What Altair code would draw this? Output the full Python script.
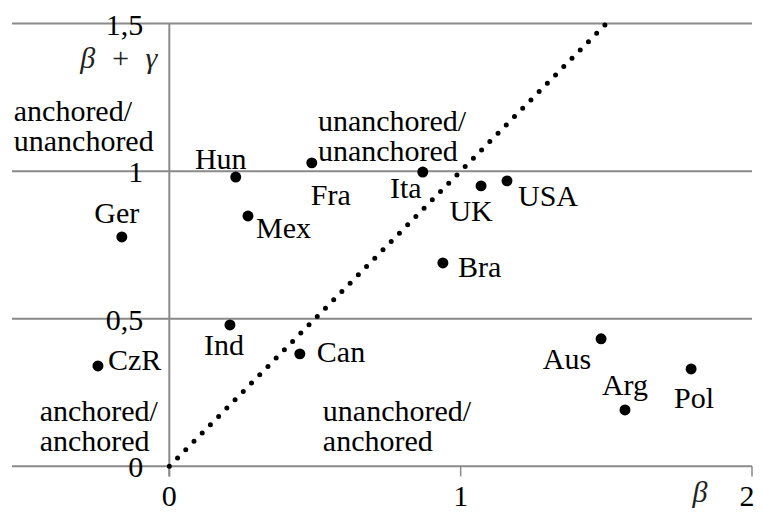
import altair as alt
import pandas as pd

# ---- data -------------------------------------------------------------
countries = ["Hun", "Fra", "Mex", "Ger", "Ita", "UK", "USA", "Bra",
             "Ind", "Can", "CzR", "Aus", "Arg", "Pol"]
beta = [0.228, 0.489, 0.270, -0.163, 0.870, 1.070, 1.159, 0.939,
        0.208, 0.448, -0.245, 1.482, 1.564, 1.791]
beta_gamma = [0.980, 1.028, 0.848, 0.777, 0.997, 0.950, 0.967, 0.689,
              0.479, 0.381, 0.340, 0.432, 0.191, 0.330]

grid_y = [0, 0.5, 1, 1.5]
y_tick_labels = ["0", "0,5", "1", "1,5"]
x_ticks = [0, 1, 2]
x_tick_labels = ["0", "1", "2"]

region_text = ["anchored/\nunanchored", "unanchored/\nunanchored",
               "anchored/\nanchored", "unanchored/\nanchored"]
region_x = [-0.534, 0.510, -0.445, 0.527]
region_y = [1.200, 1.167, 0.185, 0.185]

diag = [0, 1.5]

X_DOM = [-0.54, 2.0]
Y_DOM = [-0.158, 1.539]
FONT = "Liberation Serif"
FS = 30
GRID = "#8a8a8a"

xs = alt.Scale(domain=X_DOM, nice=False, zero=False)
ys = alt.Scale(domain=Y_DOM, nice=False, zero=False)

pts = pd.DataFrame({"country": countries, "beta": beta, "bg": beta_gamma})
grid = pd.DataFrame({"y": grid_y, "lab": y_tick_labels,
                     "x0": [X_DOM[0]] * 4, "x1": [X_DOM[1]] * 4, "zero": [0] * 4})
xt = pd.DataFrame({"x": x_ticks, "lab": x_tick_labels, "y0": [0] * 3, "y1": [-0.034] * 3})
reg = pd.DataFrame({"t": region_text, "x": region_x, "y": region_y})
dg = pd.DataFrame({"x": diag, "y": diag})

X = lambda f: alt.X(f, scale=xs, axis=None)
Y = lambda f: alt.Y(f, scale=ys, axis=None)

grid_rules = alt.Chart(grid).mark_rule(color=GRID, strokeWidth=2).encode(
    x=X("x0:Q"), x2="x1:Q", y=Y("y:Q"))

yaxis_line = alt.Chart(pd.DataFrame({"x": [0], "y0": [-0.034], "y1": [1.5]})).mark_rule(
    color=GRID, strokeWidth=2).encode(x=X("x:Q"), y=Y("y0:Q"), y2="y1:Q")

x_tick_marks = alt.Chart(xt).mark_rule(color=GRID, strokeWidth=1.5).encode(
    x=X("x:Q"), y=Y("y0:Q"), y2="y1:Q")

y_labels = alt.Chart(grid).mark_text(
    font=FONT, fontSize=FS, align="right", baseline="middle", dx=-26, dy=2, color="black"
).encode(x=X("zero:Q"), y=Y("y:Q"), text="lab:N")

x_labels_inner = alt.Chart(xt).transform_filter(alt.datum.x < 2).mark_text(
    font=FONT, fontSize=FS, align="center", baseline="middle", dy=31, color="black"
).encode(x=X("x:Q"), y=Y("y0:Q"), text="lab:N")
x_label_last = alt.Chart(xt).transform_filter(alt.datum.x == 2).mark_text(
    font=FONT, fontSize=FS, align="center", baseline="middle", dx=-5, dy=31, color="black"
).encode(x=X("x:Q"), y=Y("y0:Q"), text="lab:N")

ttl = pd.DataFrame({"x": [0, 2], "y": [1.5, 0], "t": ["β\u2002+\u2002γ", "β"]})
y_title = alt.Chart(ttl.iloc[[0]]).mark_text(
    font=FONT, fontSize=FS, fontStyle="italic", align="right", baseline="middle",
    dx=-12, dy=35, color="#222222").encode(x=X("x:Q"), y=Y("y:Q"), text="t:N")
x_title = alt.Chart(ttl.iloc[[1]]).mark_text(
    font=FONT, fontSize=FS, fontStyle="italic", align="center", baseline="middle",
    dx=-52, dy=27, color="#222222").encode(x=X("x:Q"), y=Y("y:Q"), text="t:N")

diagonal = alt.Chart(dg).mark_line(
    color="black", strokeWidth=5, strokeDash=[0, 11.7], strokeCap="round"
).encode(x=X("x:Q"), y=Y("y:Q"))

dots = alt.Chart(pts).mark_circle(size=120, color="black", opacity=1).encode(
    x=X("beta:Q"), y=Y("bg:Q"))

regions = alt.Chart(reg).mark_text(
    font=FONT, fontSize=FS, align="left", baseline="middle", lineBreak="\n",
    lineHeight=30, color="black"
).encode(x=X("x:Q"), y=Y("y:Q"), text="t:N")

# label placement (align, dx, dy) relative to each point
placement = {
    "Hun": ("center", -15, -17), "Fra": ("center", 19, 33), "Mex": ("left", 8, 13),
    "Ger": ("center", -5, -23), "Ita": ("center", -17, 17), "UK": ("center", -10, 26),
    "USA": ("left", 11, 16), "Bra": ("left", 15, 5), "Ind": ("center", -6, 21),
    "Can": ("left", 17, -1), "CzR": ("left", 10, -5), "Aus": ("right", -10, 21),
    "Arg": ("center", 0, -24), "Pol": ("center", 3, 30),
}
label_layers = []
for name, (al, dx, dy) in placement.items():
    label_layers.append(
        alt.Chart(pts).transform_filter(alt.datum.country == name).mark_text(
            font=FONT, fontSize=FS, align=al, baseline="middle", dx=dx, dy=dy, color="black"
        ).encode(x=X("beta:Q"), y=Y("bg:Q"), text="country:N")
    )

chart = alt.layer(
    grid_rules, yaxis_line, x_tick_marks, y_labels, x_labels_inner, x_label_last,
    y_title, x_title, regions, diagonal, dots, *label_layers
).properties(
    width=740, height=501,
    padding={"left": 4, "top": 4, "right": 3, "bottom": 0},
    autosize=alt.AutoSizeParams(type="none"),
    background="white",
).configure_view(stroke=None)

chart.save("out.html", embed_options={"renderer": "svg", "actions": False})
